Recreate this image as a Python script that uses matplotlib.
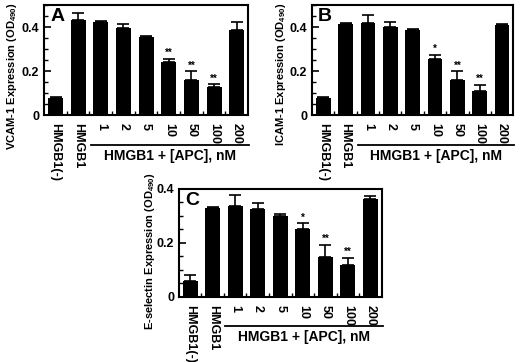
import matplotlib
matplotlib.use("Agg")
import matplotlib.pyplot as plt
from matplotlib.ticker import MultipleLocator
import numpy as np

plt.rcParams['font.family'] = ['Liberation Sans', 'DejaVu Sans']
plt.rcParams['font.weight'] = 'bold'
plt.rcParams['mathtext.fontset'] = 'custom'
plt.rcParams['mathtext.rm'] = 'Liberation Sans:bold'
plt.rcParams['mathtext.default'] = 'rm'

labels = ["HMGB1(-)", "HMGB1", "1", "2", "5", "10", "50", "100", "200"]

vcam = [0.076, 0.430, 0.421, 0.398, 0.357, 0.242, 0.158, 0.126, 0.388]
vcam_err = [0.008, 0.034, 0.007, 0.017, 0.003, 0.015, 0.041, 0.014, 0.035]
vcam_sig = ["", "", "", "", "", "**", "**", "**", ""]

icam = [0.076, 0.415, 0.418, 0.400, 0.385, 0.255, 0.159, 0.110, 0.408]
icam_err = [0.007, 0.003, 0.035, 0.023, 0.008, 0.020, 0.040, 0.029, 0.007]
icam_sig = ["", "", "", "", "", "*", "**", "**", ""]

esel = [0.059, 0.330, 0.337, 0.325, 0.300, 0.251, 0.148, 0.117, 0.363]
esel_err = [0.021, 0.002, 0.042, 0.023, 0.008, 0.022, 0.045, 0.028, 0.010]
esel_sig = ["", "", "", "", "", "*", "**", "**", ""]


def panel(ax, vals, errs, sig, letter, ylabel, ymax, label_pos):
    x = np.arange(len(vals))
    ax.bar(x, vals, width=0.66, color='black')
    ax.errorbar(x, vals, yerr=[np.zeros(len(vals)), errs], fmt='none',
                ecolor='black', elinewidth=1.2, capsize=4, capthick=1.2)
    for xi, v, e, s in zip(x, vals, errs, sig):
        if s:
            ax.text(xi, v + e + 0.003, s, ha='center', va='bottom',
                    fontsize=7, fontweight='bold')
    ax.set_xlim(-0.5, len(vals) - 0.5)
    ax.set_ylim(0, ymax)
    ax.yaxis.set_minor_locator(MultipleLocator(0.05))
    ax.set_yticks([0, 0.2, 0.4])
    ax.set_yticklabels(["0", "0.2", "0.4"], fontsize=9, fontweight='bold')
    ax.set_xticks(x)
    ax.set_xticklabels(labels, rotation=270, fontsize=9, fontweight='bold')
    ax.set_xticks(np.arange(len(vals) - 1) + 0.5, minor=True)
    ax.tick_params(axis='x', which='major', length=0, pad=6)
    ax.tick_params(axis='x', which='minor', direction='in', length=3, width=1)
    ax.tick_params(axis='y', which='major', direction='in', length=5, width=1.2)
    ax.tick_params(axis='y', which='minor', direction='in', length=3, width=1)
    for sp in ax.spines.values():
        sp.set_linewidth(1.5)
    ax.set_ylabel(ylabel, fontsize=8, fontweight='bold')
    ax.yaxis.set_label_coords(*label_pos)
    ax.text(0.03, 0.97, letter, transform=ax.transAxes, ha='left', va='top',
            fontsize=14, fontweight='bold')
    tr = ax.get_xaxis_transform()
    ax.plot([1.55, 8.55], [-0.27, -0.27], transform=tr, color='black',
            lw=1.3, clip_on=False)
    ax.text(5.05, -0.31, "HMGB1 + [APC], nM", transform=tr, ha='center',
            va='top', fontsize=10, fontweight='bold')


fig = plt.figure(figsize=(5.2, 3.62), dpi=100)
axA = fig.add_axes([0.085, 0.682, 0.392, 0.304])
axB = fig.add_axes([0.600, 0.682, 0.387, 0.304])
axC = fig.add_axes([0.344, 0.180, 0.390, 0.298])

panel(axA, vcam, vcam_err, vcam_sig, "A", "VCAM-1 Expression (OD$_{490}$)", 0.5, (-0.125, 0.35))
panel(axB, icam, icam_err, icam_sig, "B", "ICAM-1 Expression (OD$_{490}$)", 0.5, (-0.12, 0.37))
panel(axC, esel, esel_err, esel_sig, "C", "E-selectin Expression (OD$_{490}$)", 0.4, (-0.11, 0.42))

fig.savefig("out.png", dpi=100)
